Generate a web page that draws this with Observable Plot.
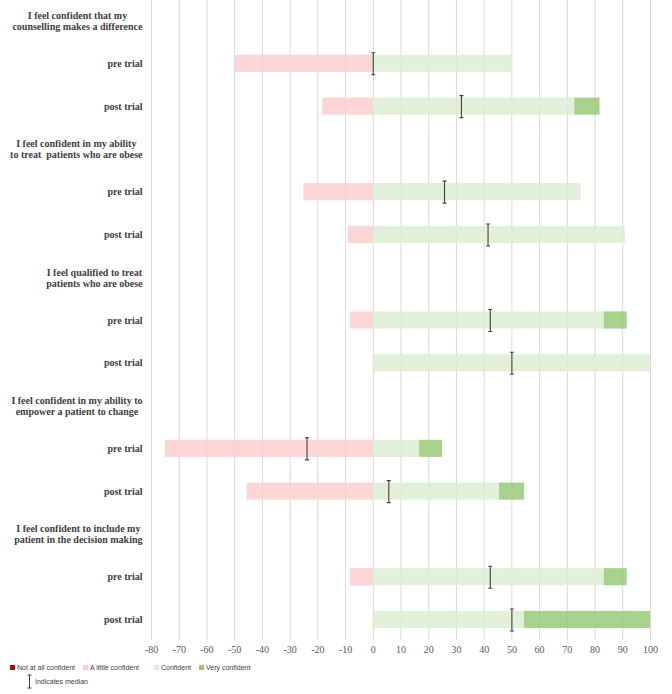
<!DOCTYPE html>
<html>
<head>
<meta charset="utf-8">
<script src="https://cdn.jsdelivr.net/npm/d3@7"></script>
<script src="https://cdn.jsdelivr.net/npm/@observablehq/plot@0.6"></script>
<style>
  html, body { margin: 0; padding: 0; background: #fff; }
  #chart { width: 672px; }
  #legend { position: relative; width: 672px; height: 36px; font-family: "Liberation Sans", Arial, sans-serif; font-size: 7px; color: #404040; }
  .item { position: absolute; display: flex; align-items: center; white-space: nowrap; }
  .sw { width: 5px; height: 5px; margin-right: 2px; display: inline-block; }
</style>
</head>
<body>
<div id="chart"></div>
<div id="legend"></div>
<script>
// ---- data ----
const statements = [
  "I feel confident that my\ncounselling makes a difference",
  "I feel confident in my ability\nto treat  patients who are obese",
  "I feel qualified to treat\npatients who are obese",
  "I feel confident in my ability to\nempower a patient to change",
  "I feel confident to include my\npatient in the decision making"
];
const phases = ["pre trial", "post trial"];
const categories = ["Not at all confident", "A little confident", "Confident", "Very confident"];
const colors = ["#c00000", "#fccecf", "#ddecd3", "#9ac97a"];
// [pre, post] percentages per statement
const notAtAll        = [[0, 0], [0, 0], [0, 0], [0, 0], [0, 0]];
const littleConfident = [[50, 18.2], [25, 9.1], [8.3, 0], [75, 45.5], [8.3, 0]];
const confident       = [[50, 72.7], [75, 90.9], [83.3, 100], [16.7, 45.5], [83.3, 54.5]];
const veryConfident   = [[0, 9.1], [0, 0], [8.3, 0], [8.3, 9.1], [8.3, 45.5]];
const medians         = [[0, 31.8], [25.7, 41.4], [42.2, 50], [-23.9, 5.6], [42.2, 50]];
const xTicks = [-80, -70, -60, -50, -40, -30, -20, -10, 0, 10, 20, 30, 40, 50, 60, 70, 80, 90, 100];

// ---- build tables ----
const rows = [];
const headerRows = [];
const phaseRows = [];
const bars = [];
const meds = [];
statements.forEach((s, i) => {
  const hk = "s" + i;
  rows.push(hk);
  headerRows.push({row: hk, label: s});
  phases.forEach((p, j) => {
    const k = hk + "-" + j;
    rows.push(k);
    phaseRows.push({row: k, label: p});
    bars.push({row: k, cat: categories[1], value: -littleConfident[i][j]});
    bars.push({row: k, cat: categories[0], value: -notAtAll[i][j]});
    bars.push({row: k, cat: categories[2], value: confident[i][j]});
    bars.push({row: k, cat: categories[3], value: veryConfident[i][j]});
    meds.push({row: k, value: medians[i][j]});
  });
});

// measure header text so that lines are centred as a block ending at the label column
const labelFont = "bold 10px 'Liberation Serif'";
const ctx = document.createElement("canvas").getContext("2d");
ctx.font = labelFont;
headerRows.forEach(h => {
  h.w = d3.max(h.label.split("\n"), l => ctx.measureText(l).width);
});

const iBeam = {
  draw(context) {
    const h = 11, c = 2;
    context.moveTo(-c, -h); context.lineTo(c, -h);
    context.moveTo(0, -h); context.lineTo(0, h);
    context.moveTo(-c, h); context.lineTo(c, h);
  }
};

const labelGap = 9;
const chart = Plot.plot({
  width: 672,
  height: 658,
  marginLeft: 151,
  marginRight: 22,
  marginTop: 0,
  marginBottom: 18,
  x: {domain: [-80, 100], axis: null},
  y: {domain: rows, axis: null, paddingInner: 0.6, paddingOuter: 0.28, align: 0.5, round: false},
  color: {domain: categories, range: colors},
  style: {fontFamily: "'Liberation Serif', serif", background: "#fff"},
  marks: [
    Plot.gridX({ticks: xTicks, stroke: "#d9d9d9", strokeOpacity: 1}),
    Plot.barX(bars, {x: "value", y: "row", fill: "cat", fillOpacity: 0.85}),
    Plot.dot(meds, {x: "value", y: "row", symbol: iBeam, stroke: "#404040", fill: "none", strokeWidth: 1.1}),
    Plot.axisX({ticks: xTicks, tickSize: 0, tickPadding: 5, tickFormat: d => String(d), label: null,
      fontSize: 10, color: "#595959", fontFamily: "'Liberation Serif', serif"}),
    Plot.text(phaseRows, {y: "row", text: "label", frameAnchor: "left", textAnchor: "end", dx: -labelGap,
      fontSize: 10, fontWeight: "bold", fill: "#404040"}),
    ...headerRows.map(h => Plot.text([h], {y: "row", text: "label", frameAnchor: "left", textAnchor: "middle",
      dx: -labelGap - h.w / 2, lineHeight: 1.1, fontSize: 10, fontWeight: "bold", fill: "#404040"}))
  ]
});
document.getElementById("chart").appendChild(chart);

// ---- legend ----
const legend = document.getElementById("legend");
const legendX = [10, 83, 154, 199];
categories.forEach((c, i) => {
  const d = document.createElement("div");
  d.className = "item";
  d.style.left = legendX[i] + "px";
  d.style.top = "6px";
  d.innerHTML = `<span class="sw" style="background:${i === 0 ? colors[0] : i === 1 ? "#fcd0d1" : colors[i]}"></span>${c}`;
  legend.appendChild(d);
});
const m = document.createElement("div");
m.className = "item";
m.style.left = "26px";
m.style.top = "16px";
m.innerHTML = `<svg width="7" height="15" style="margin-right:2px"><path d="M1.5,1H5.5M3.5,1V14M1.5,14H5.5" stroke="#404040" fill="none"/></svg><span>Indicates median</span>`;
legend.appendChild(m);
</script>
</body>
</html>
